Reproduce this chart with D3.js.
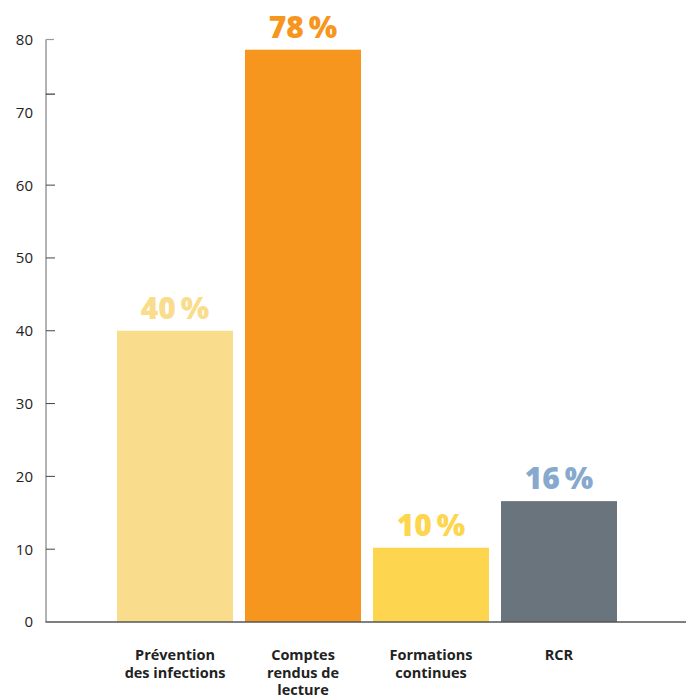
<!DOCTYPE html>
<html>
<head>
<meta charset="utf-8">
<script src="https://cdn.jsdelivr.net/npm/d3@7"></script>
<style>
  body { margin: 0; background: #fff; }
  svg { display: block; }
  .tick-label { font-family: "Open Sans", sans-serif; font-size: 15px; fill: #222; }
  .cat-label { font-family: "Open Sans", sans-serif; font-size: 14.5px; font-weight: 700; fill: #222; }
  .value-label { font-family: "Open Sans", sans-serif; font-size: 30px; font-weight: 800; }
</style>
</head>
<body>
<div id="chart"></div>
<script>
// categories, values
const categories = [["Prévention", "des infections"], ["Comptes", "rendus de", "lecture"], ["Formations", "continues"], ["RCR"]];
const values = [40, 78.6, 10.2, 16.6];
const valueLabels = ["40\u2009%", "78\u2009%", "10\u2009%", "16\u2009%"];
const barColors = ["#F9DD8C", "#F7961F", "#FED54E", "#6A747C"];
const labelColors = ["#F9DD8C", "#F7961F", "#FED54E", "#87A9CE"];
const tickValues = [0, 10, 20, 30, 40, 50, 60, 70, 80];
// tick marks as they are drawn in the source (the 70 mark sits higher)
const tickMarks = [10, 20, 30, 40, 50, 60, 72.5];

const width = 691, height = 698;
const svg = d3.select("#chart").append("svg")
    .attr("width", width)
    .attr("height", height);

const y = d3.scaleLinear().domain([0, 80]).range([622, 39.5]);
const x = d3.scaleBand()
    .domain(d3.range(categories.length))
    .range([111, 623])
    .paddingInner(12 / 128)
    .paddingOuter(6 / 128);

const axisX = 46;

// tick labels
svg.append("g").selectAll("text")
    .data(tickValues)
    .join("text")
    .attr("class", "tick-label")
    .attr("x", 33)
    .attr("y", d => y(d))
    .attr("dy", "0.36em")
    .attr("text-anchor", "end")
    .text(d => d);

// bars
svg.append("g").selectAll("rect")
    .data(values)
    .join("rect")
    .attr("x", (d, i) => x(i))
    .attr("y", d => y(d))
    .attr("width", x.bandwidth())
    .attr("height", d => y(0) - y(d))
    .attr("fill", (d, i) => barColors[i]);

// vertical axis
svg.append("line")
    .attr("x1", axisX).attr("x2", axisX)
    .attr("y1", y(80)).attr("y2", y(0))
    .attr("stroke", "#9a9a9a").attr("stroke-width", 1.5);
svg.append("line")
    .attr("x1", axisX).attr("x2", axisX + 8)
    .attr("y1", y(80)).attr("y2", y(80))
    .attr("stroke", "#9a9a9a").attr("stroke-width", 1.2);
svg.append("g").selectAll("line")
    .data(tickMarks)
    .join("line")
    .attr("x1", axisX).attr("x2", axisX + 9)
    .attr("y1", d => y(d)).attr("y2", d => y(d))
    .attr("stroke", d => d === 72.5 ? "#111" : "#444")
    .attr("stroke-width", 1);

// baseline
svg.append("line")
    .attr("x1", axisX - 0.5).attr("x2", 686)
    .attr("y1", y(0)).attr("y2", y(0))
    .attr("stroke", "#555").attr("stroke-width", 1.5);

// value labels
svg.append("g").selectAll("text")
    .data(values)
    .join("text")
    .attr("class", "value-label")
    .attr("x", (d, i) => x(i) + x.bandwidth() / 2)
    .attr("y", d => y(d) - 12)
    .attr("text-anchor", "middle")
    .attr("fill", (d, i) => labelColors[i])
    .text((d, i) => valueLabels[i]);

// category labels
const cat = svg.append("g").selectAll("text")
    .data(categories)
    .join("text")
    .attr("class", "cat-label")
    .attr("text-anchor", "middle")
    .attr("x", (d, i) => x(i) + x.bandwidth() / 2)
    .attr("y", 660);
cat.selectAll("tspan")
    .data(d => d)
    .join("tspan")
    .attr("x", function() { return this.parentNode.getAttribute("x"); })
    .attr("dy", (d, i) => i === 0 ? 0 : 17.5)
    .text(d => d);
</script>
</body>
</html>
